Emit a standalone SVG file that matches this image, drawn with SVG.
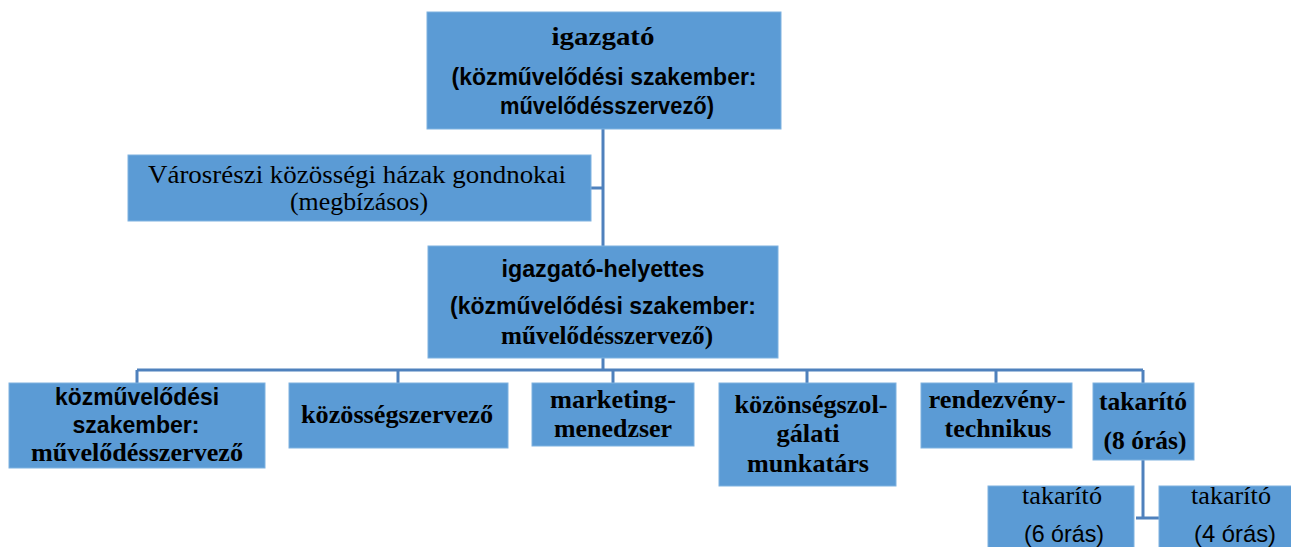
<svg xmlns="http://www.w3.org/2000/svg" width="1291" height="547" viewBox="0 0 1291 547">
<style>
.box{fill:#5B9BD5;stroke:#7FB2E0;stroke-width:1}
.con{fill:none;stroke:#4F81BD;stroke-width:3}
text{fill:#000;text-anchor:middle}
.sb{font-family:"Liberation Sans",Arial,sans-serif;font-weight:bold;font-size:23px}
.tb{font-family:"Liberation Serif","Times New Roman",serif;font-weight:bold;font-size:26px}
.tr{font-family:"Liberation Serif","Times New Roman",serif;font-size:26px}
.sr{font-family:"Liberation Sans",Arial,sans-serif;font-size:24px}
</style>
<rect width="1291" height="547" fill="#fff"/>
<g id="connectors">
<path class="con" d="M603 129V246M591 188H603"/>
<path class="con" d="M603 358V370M137 370H1143M137 370V383M398 370V383M613 370V383M807 370V383M996 370V383M1143 370V383"/>
<path class="con" d="M1143 460V518M1136 518H1159"/>
</g>
<g id="igazgato">
<rect class="box" x="427" y="12" width="354" height="117"/>
<text class="tb" x="603" y="45" font-size="28" textLength="103" lengthAdjust="spacingAndGlyphs">igazgató</text>
<text class="sb" x="604" y="85" textLength="305" lengthAdjust="spacingAndGlyphs">(közművelődési szakember:</text>
<text class="sb" x="607" y="114" textLength="214" lengthAdjust="spacingAndGlyphs">művelődésszervező)</text>
</g>
<g id="gondnokok">
<rect class="box" x="128" y="155" width="463" height="66"/>
<text class="tr" x="357" y="183" font-size="23" textLength="418" lengthAdjust="spacingAndGlyphs">Városrészi közösségi házak gondnokai</text>
<text class="tr" x="359" y="210" font-size="23" textLength="138" lengthAdjust="spacingAndGlyphs">(megbízásos)</text>
</g>
<g id="helyettes">
<rect class="box" x="428" y="246" width="350" height="112"/>
<text class="sb" x="603" y="277" textLength="203" lengthAdjust="spacingAndGlyphs">igazgató-helyettes</text>
<text class="sb" x="603" y="314" textLength="306" lengthAdjust="spacingAndGlyphs">(közművelődési szakember:</text>
<text class="tb" x="607" y="344" textLength="212" lengthAdjust="spacingAndGlyphs">művelődésszervező)</text>
</g>
<g id="kozmuvelodesi">
<rect class="box" x="9" y="383" width="256" height="85"/>
<text class="sb" x="137" y="405" textLength="164" lengthAdjust="spacingAndGlyphs">közművelődési</text>
<text class="sb" x="136" y="433" textLength="127" lengthAdjust="spacingAndGlyphs">szakember:</text>
<text class="tb" x="137" y="461" textLength="212" lengthAdjust="spacingAndGlyphs">művelődésszervező</text>
</g>
<g id="kozossegszervezo">
<rect class="box" x="289" y="383" width="219" height="65"/>
<text class="tb" x="397" y="423" textLength="192" lengthAdjust="spacingAndGlyphs">közösségszervező</text>
</g>
<g id="marketing">
<rect class="box" x="532" y="383" width="162" height="63"/>
<text class="tb" x="613" y="408" textLength="126" lengthAdjust="spacingAndGlyphs">marketing-</text>
<text class="tb" x="613" y="437" textLength="118" lengthAdjust="spacingAndGlyphs">menedzser</text>
</g>
<g id="kozonsegszolgalati">
<rect class="box" x="719" y="383" width="177" height="103"/>
<text class="tb" x="811" y="413" textLength="153" lengthAdjust="spacingAndGlyphs">közönségszol-</text>
<text class="tb" x="808" y="442" textLength="63" lengthAdjust="spacingAndGlyphs">gálati</text>
<text class="tb" x="808" y="472" textLength="122" lengthAdjust="spacingAndGlyphs">munkatárs</text>
</g>
<g id="rendezvenytechnikus">
<rect class="box" x="921" y="383" width="151" height="65"/>
<text class="tb" x="997" y="408" textLength="137" lengthAdjust="spacingAndGlyphs">rendezvény-</text>
<text class="tb" x="998" y="437" textLength="107" lengthAdjust="spacingAndGlyphs">technikus</text>
</g>
<g id="takarito8">
<rect class="box" x="1093" y="383" width="101" height="77"/>
<text class="tb" x="1143" y="410" textLength="88" lengthAdjust="spacingAndGlyphs">takarító</text>
<text class="tb" x="1145" y="449" textLength="83" lengthAdjust="spacingAndGlyphs">(8 órás)</text>
</g>
<g id="takarito6">
<rect class="box" x="988" y="486" width="146" height="70"/>
<text class="tr" x="1062" y="504" textLength="80" lengthAdjust="spacingAndGlyphs">takarító</text>
<text class="sr" x="1064" y="542" textLength="80" lengthAdjust="spacingAndGlyphs">(6 órás)</text>
</g>
<g id="takarito4">
<rect class="box" x="1159" y="486" width="140" height="70"/>
<text class="tr" x="1231" y="504" textLength="80" lengthAdjust="spacingAndGlyphs">takarító</text>
<text class="sr" x="1235" y="542" textLength="82" lengthAdjust="spacingAndGlyphs">(4 órás)</text>
</g>
</svg>
